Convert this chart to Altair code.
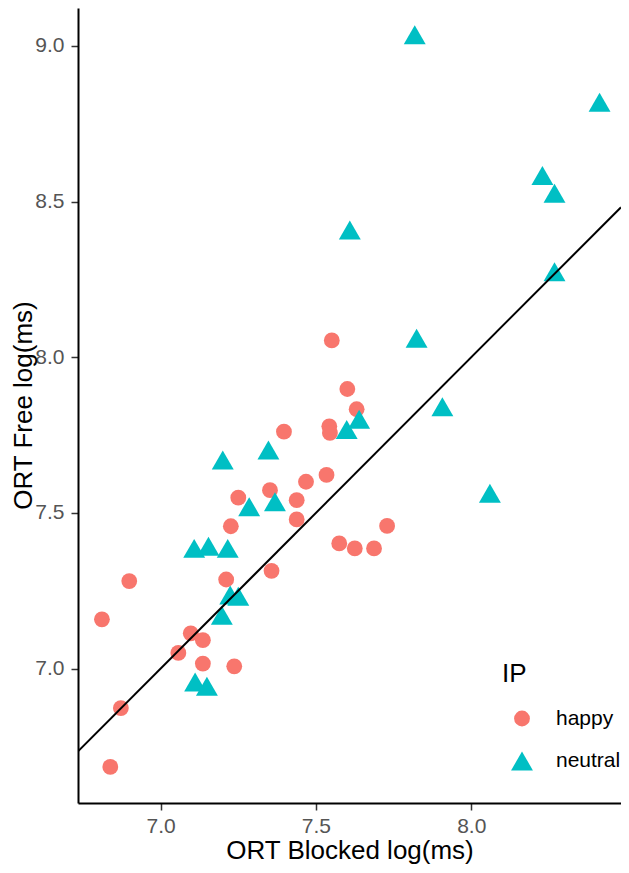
import altair as alt
import pandas as pd

# ---- data ----
happy_x = [6.811, 6.899, 6.872, 6.838, 7.057, 7.097, 7.136, 7.136, 7.237, 7.211,
           7.357, 7.226, 7.250, 7.352, 7.438, 7.438, 7.468, 7.534, 7.397, 7.543,
           7.545, 7.551, 7.601, 7.631, 7.575, 7.625, 7.687, 7.729]
happy_y = [7.158, 7.281, 6.873, 6.684, 7.050, 7.113, 7.091, 7.016, 7.007, 7.286,
           7.314, 7.457, 7.549, 7.573, 7.541, 7.479, 7.600, 7.622, 7.761, 7.778,
           7.757, 8.054, 7.898, 7.833, 7.402, 7.386, 7.386, 7.458]
neutral_x = [7.111, 7.149, 7.197, 7.224, 7.250, 7.108, 7.154, 7.216, 7.285, 7.368,
             7.200, 7.347, 7.599, 7.639, 7.907, 7.824, 8.060, 7.609, 8.268, 8.268,
             8.229, 8.413, 7.818]
neutral_y = [6.957, 6.943, 7.171, 7.236, 7.232, 7.386, 7.393, 7.386, 7.520, 7.536,
             7.670, 7.702, 7.768, 7.801, 7.841, 8.061, 7.563, 8.409, 8.275, 8.527,
             8.584, 8.819, 9.036]
categories = ["happy", "neutral"]
colors = ["#F8766D", "#00BFC4"]
shapes = ["circle", "triangle-up"]
identity_line = [6.734, 8.482]  # y = x reference line
x_ticks = [7.0, 7.5, 8.0]
y_ticks = [7.0, 7.5, 8.0, 8.5, 9.0]

pts = pd.DataFrame({
    "x": happy_x + neutral_x,
    "y": happy_y + neutral_y,
    "IP": ["happy"] * len(happy_x) + ["neutral"] * len(neutral_x),
})
line_df = pd.DataFrame({"x": identity_line, "y": identity_line})

FONT = "Liberation Sans"
xscale = alt.Scale(domain=[6.734, 8.482], nice=False, zero=False)
yscale = alt.Scale(domain=[6.568, 9.122], nice=False, zero=False)

xaxis = alt.Axis(values=x_ticks, format=".1f", title="ORT Blocked log(ms)", grid=False,
                 domainColor="black", domainWidth=2, tickColor="#333333", tickWidth=1.5,
                 tickSize=7, labelPadding=5, labelFontSize=21, labelColor="#555555",
                 labelFont=FONT, titleFont=FONT, titleFontSize=26, titleFontWeight="normal",
                 titleColor="black", titleBaseline="alphabetic", titleY=55)
yaxis = alt.Axis(values=y_ticks, format=".1f", title="ORT Free log(ms)", grid=False,
                 domainColor="black", domainWidth=2, tickColor="#333333", tickWidth=1.5,
                 tickSize=7, labelPadding=7, labelFontSize=21, labelColor="#555555",
                 labelFont=FONT, titleFont=FONT, titleFontSize=26, titleFontWeight="normal",
                 titleColor="black", titleBaseline="alphabetic", titleAngle=270,
                 titleX=-47, titleY=397)

leg = alt.Legend(title="IP", orient="none", legendX=424, legendY=653)

points = alt.Chart(pts).mark_point(filled=True, opacity=1, strokeWidth=0).encode(
    x=alt.X("x:Q", scale=xscale, axis=xaxis),
    y=alt.Y("y:Q", scale=yscale, axis=yaxis),
    color=alt.Color("IP:N", scale=alt.Scale(domain=categories, range=colors), legend=leg),
    shape=alt.Shape("IP:N", scale=alt.Scale(domain=categories, range=shapes), legend=leg),
    size=alt.Size("IP:N", scale=alt.Scale(domain=categories, range=[250, 480]), legend=leg),
)

line = alt.Chart(line_df).mark_line(color="black", strokeWidth=2, clip=True).encode(
    x=alt.X("x:Q", scale=xscale),
    y=alt.Y("y:Q", scale=yscale),
)

chart = alt.layer(points, line).properties(
    width=543, height=795,
    autosize=alt.AutoSizeParams(type="none"),
    padding={"left": 70, "top": 0, "right": 0, "bottom": 62},
).configure_view(stroke=None).configure_legend(
    titleFont=FONT, titleFontSize=26, titleFontWeight="normal", titleColor="black",
    labelFont=FONT, labelFontSize=21, labelColor="black",
    titlePadding=21, rowPadding=20, labelOffset=22, symbolOffset=8, padding=0,
)

chart.save("out.html", embed_options={"renderer": "svg", "actions": False})
